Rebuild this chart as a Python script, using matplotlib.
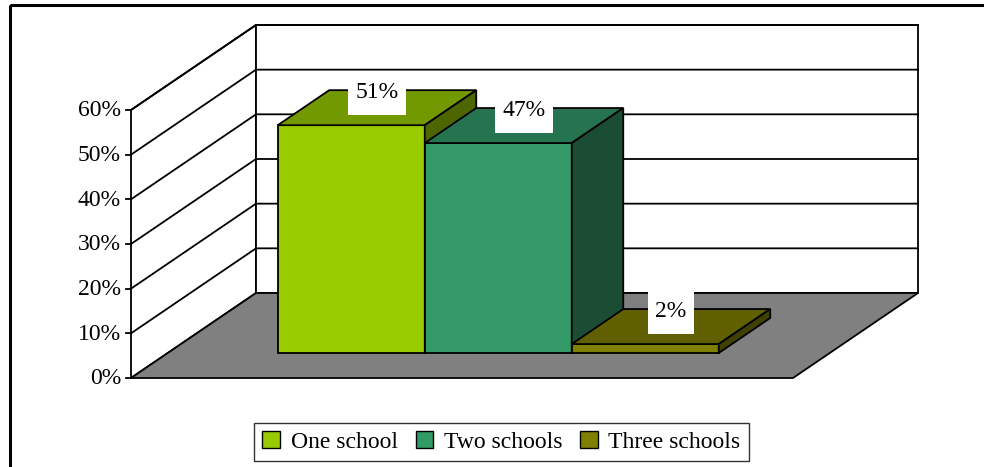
import matplotlib
matplotlib.use('Agg')

import matplotlib.pyplot as plt
from matplotlib.patches import Polygon, Rectangle, Patch

categories = ["One school", "Two schools", "Three schools"]
shares = [51, 47, 2]
ticks = [0, 10, 20, 30, 40, 50, 60]
tick_labels = ["0%", "10%", "20%", "30%", "40%", "50%", "60%"]

front_colors = ["#99CC00", "#339966", "#808000"]
top_colors = ["#739900", "#267350", "#606000"]
side_colors = ["#4D6600", "#1A4D33", "#404000"]

plt.rcParams['font.family'] = ['Liberation Serif', 'DejaVu Serif']
FS = 17
LW = 1.3

# 3d box layout, pixel units
X0, Y0 = 131, 378          # front corner of the floor (0%)
PX_PER_PCT = 4.467
DEPTH_DX, DEPTH_DY = 125, -85
FLOOR_W = 662
GAP = 110
BAR_W = 147
D_FRONT, D_BACK = 0.294, 0.706
VMAX = 60


def proj(u, v, d):
    return (X0 + u + DEPTH_DX * d, Y0 - PX_PER_PCT * v + DEPTH_DY * d)


def face(ax, pts, fc, z=1):
    ax.add_patch(Polygon([proj(*p) for p in pts], closed=True, facecolor=fc,
                         edgecolor="black", linewidth=LW, joinstyle="miter", zorder=z))


fig = plt.figure(figsize=(9.84, 4.67), dpi=100)
ax = fig.add_axes([0, 0, 1, 1])
ax.set_xlim(0, 984)
ax.set_ylim(467, 0)
ax.axis('off')

# outer frame
ax.add_patch(Rectangle((10, 5), 990, 480, fill=False, edgecolor="black", linewidth=2.2, zorder=0))

# walls and floor
face(ax, [(0, 0, 0), (0, VMAX, 0), (0, VMAX, 1), (0, 0, 1)], "white")
face(ax, [(0, 0, 1), (FLOOR_W, 0, 1), (FLOOR_W, VMAX, 1), (0, VMAX, 1)], "white")
face(ax, [(0, 0, 0), (FLOOR_W, 0, 0), (FLOOR_W, 0, 1), (0, 0, 1)], "#808080")

for t in ticks[1:]:
    pts = [proj(0, t, 0), proj(0, t, 1), proj(FLOOR_W, t, 1)]
    ax.plot([p[0] for p in pts], [p[1] for p in pts], color="black", lw=LW, zorder=1.5)

# value axis ticks and labels
for t, lab in zip(ticks, tick_labels):
    x, y = proj(0, t, 0)
    ax.plot([x - 5, x], [y, y], color="black", lw=LW, zorder=1.5)
    ax.text(x - 10, y + 1, lab, ha="right", va="center", fontsize=FS)

# bars
labels = []
for i, v in enumerate(shares):
    u0 = GAP + BAR_W * i
    u1 = u0 + BAR_W
    face(ax, [(u0, 0, D_FRONT), (u1, 0, D_FRONT), (u1, v, D_FRONT), (u0, v, D_FRONT)],
         front_colors[i], z=2 + i)
    face(ax, [(u0, v, D_FRONT), (u1, v, D_FRONT), (u1, v, D_BACK), (u0, v, D_BACK)],
         top_colors[i], z=2 + i)
    face(ax, [(u1, 0, D_FRONT), (u1, 0, D_BACK), (u1, v, D_BACK), (u1, v, D_FRONT)],
         side_colors[i], z=2 + i)
    cx, cy = proj((u0 + u1) / 2, v, 0.5)
    labels.append(ax.text(cx, cy - 15, f"{v}%", ha="center", va="center",
                          fontsize=FS, zorder=11))

# white boxes behind the value labels
fig.canvas.draw()
renderer = fig.canvas.get_renderer()
inv = ax.transData.inverted()
for txt in labels:
    bb = txt.get_window_extent(renderer)
    (x_a, y_a), (x_b, y_b) = inv.transform([(bb.x0, bb.y0), (bb.x1, bb.y1)])
    cx, cy = txt.get_position()
    w = abs(x_b - x_a) + 14
    ax.add_patch(Rectangle((cx - w / 2, cy - 22), w, 44, facecolor="white",
                           edgecolor="none", zorder=10))

handles = [Patch(facecolor=c, edgecolor="black", linewidth=1.0) for c in front_colors]
leg = fig.legend(handles, categories, loc="center", ncol=3,
                 bbox_to_anchor=(501.5 / 984, 1 - 442 / 467), fontsize=FS,
                 frameon=True, fancybox=False, edgecolor="black",
                 handlelength=0.75, handleheight=0.75, handletextpad=0.45,
                 columnspacing=0.75, borderpad=0.35, borderaxespad=0)
leg.get_frame().set_linewidth(1.0)

fig.savefig("out.png", dpi=100)
